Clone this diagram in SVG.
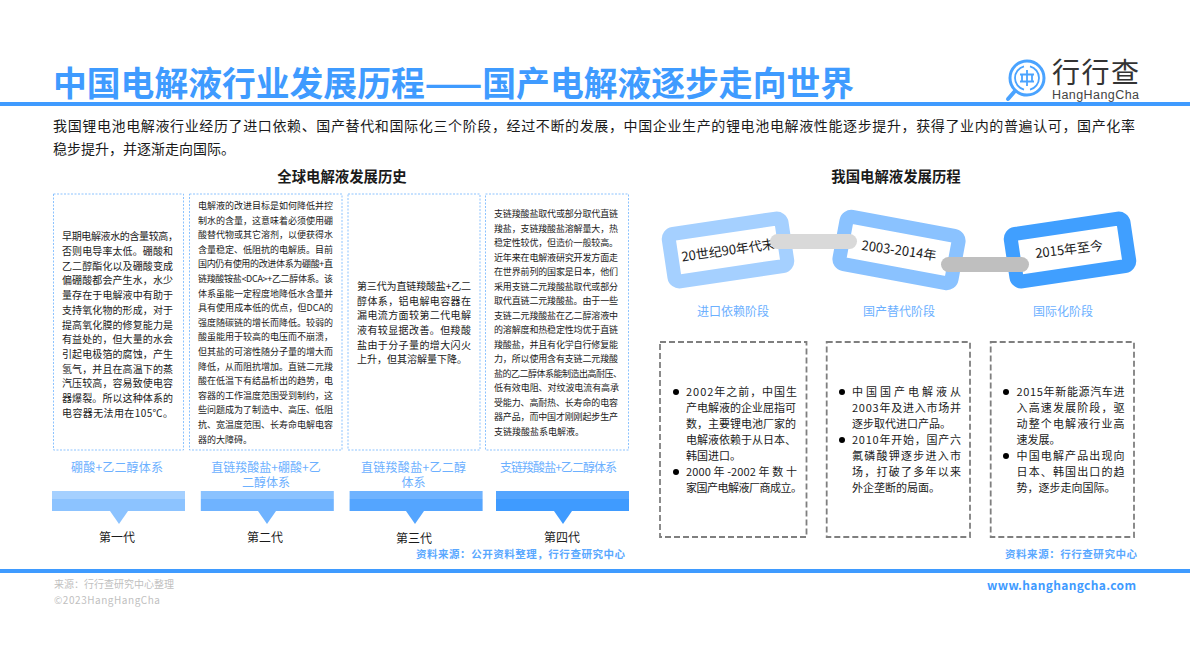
<svg xmlns="http://www.w3.org/2000/svg" width="1190" height="669" viewBox="0 0 1190 669">
<style>
text{font-family:"Noto Sans CJK SC","Noto Sans",sans-serif;fill:#1a1a1a}
.c{text-anchor:middle}
.t10{font-size:10px}
.t9{font-size:9px}
.t11{font-size:11px}
.lab{font-size:12px;fill:#6cb0ff}
.gen{font-size:12px;text-anchor:middle}
.src{font-size:10.5px;font-weight:700;fill:#5aa8ff}
.h{font-size:14.400px;font-weight:700;text-anchor:middle}
.box{fill:#fff;stroke:#8cc3ff;stroke-width:1;stroke-dasharray:2 1.5}
.dbox{fill:#fff;stroke:#7f7f7f;stroke-width:1.8;stroke-dasharray:6 3}
.link{fill:#fff;stroke-width:14}
.foot{font-size:10px;fill:#bfbfbf}
</style>
<g id="header">
<text x="53" y="96" font-size="33.800" font-weight="700" style="fill:#3f9bff">中国电解液行业发展历程——国产电解液逐步走向世界</text>
<rect x="0" y="102" width="1190" height="4" fill="#3f9bff"/>
</g>
<g id="logo">
<circle cx="1027" cy="78" r="17" fill="none" stroke="#4aa3ff" stroke-width="3"/>
<path d="M1015 78a12 12 0 0 1 9-11.600M1039 78a12 12 0 0 1-9 11.600M1030 66.400a12 12 0 0 1 9 11.600M1024 89.600a12 12 0 0 1-9-11.600" fill="none" stroke="#4aa3ff" stroke-width="1.800"/>
<path d="M1020 74.500h14M1020 81.500h14M1027 70v16M1022 74.500v7M1032 74.500v7" fill="none" stroke="#4aa3ff" stroke-width="1.800"/>
<path d="M1015 91l-7 8" stroke="#4aa3ff" stroke-width="4" stroke-linecap="round"/>
<text x="1052" y="83" font-size="28" style="fill:#333" textLength="87" lengthAdjust="spacing">行行查</text>
<text x="1052" y="99" font-size="12.500" style="fill:#444;font-family:'Liberation Sans',sans-serif" textLength="87" lengthAdjust="spacing">HangHangCha</text>
</g>
<g id="intro">
<text x="53" y="131" font-size="14" textLength="1082" lengthAdjust="spacing">我国锂电池电解液行业经历了进口依赖、国产替代和国际化三个阶段，经过不断的发展，中国企业生产的锂电池电解液性能逐步提升，获得了业内的普遍认可，国产化率</text>
<text x="53" y="154" font-size="14">稳步提升，并逐渐走向国际。</text>
</g>
<text class="h" x="342" y="182">全球电解液发展历史</text>
<text class="h" x="896" y="182">我国电解液发展历程</text>

<g id="gen1-text">
<rect class="box" x="53.500" y="194" width="130" height="256"/>
<g class="t10">
<text x="62" y="240" textLength="116">早期电解液水的含量较高，</text>
<text x="62" y="255" textLength="111">否则电导率太低。硼酸和</text>
<text x="62" y="269.700" textLength="111">乙二醇酯化以及硼酸变成</text>
<text x="62" y="284.400" textLength="111">偏硼酸都会产生水，水少</text>
<text x="62" y="299" textLength="111">量存在于电解液中有助于</text>
<text x="62" y="313.800" textLength="111">支持氧化物的形成，对于</text>
<text x="62" y="328.500" textLength="111">提高氧化膜的修复能力是</text>
<text x="62" y="343.200" textLength="111">有益处的，但大量的水会</text>
<text x="62" y="358" textLength="111">引起电极箔的腐蚀，产生</text>
<text x="62" y="372.600" textLength="111">氢气，并且在高温下的蒸</text>
<text x="62" y="387.300" textLength="111">汽压较高，容易致使电容</text>
<text x="62" y="402" textLength="111">器爆裂。所以这种体系的</text>
<text x="62" y="416.800" textLength="111">电容器无法用在105℃。</text>
</g>
</g>
<g id="gen2-text">
<rect class="box" x="189.500" y="194" width="152.500" height="256"/>
<g class="t9">
<text x="198" y="209" textLength="135">电解液的改进目标是如何降低并控</text>
<text x="198" y="223.600" textLength="135">制水的含量，这意味着必须使用硼</text>
<text x="198" y="238.200" textLength="135">酸替代物或其它溶剂，以便获得水</text>
<text x="198" y="252.800" textLength="135">含量稳定、低阻抗的电解质。目前</text>
<text x="198" y="267.400" textLength="135">国内仍有使用的改进体系为硼酸+直</text>
<text x="198" y="282" textLength="135">链羧酸铵盐&lt;DCA&gt;+乙二醇体系。该</text>
<text x="198" y="296.600" textLength="135">体系虽能一定程度地降低水含量并</text>
<text x="198" y="311.200" textLength="135">具有使用成本低的优点，但DCA的</text>
<text x="198" y="325.800" textLength="135">强度随碳链的增长而降低。较弱的</text>
<text x="198" y="340.400" textLength="135">酸虽能用于较高的电压而不崩溃，</text>
<text x="198" y="355" textLength="135">但其盐的可溶性随分子量的增大而</text>
<text x="198" y="369.600" textLength="135">降低，从而阻抗增加。直链二元羧</text>
<text x="198" y="384.200" textLength="135">酸在低温下有结晶析出的趋势，电</text>
<text x="198" y="398.800" textLength="135">容器的工作温度范围受到制约，这</text>
<text x="198" y="413.400" textLength="135">些问题成为了制造中、高压、低阻</text>
<text x="198" y="428" textLength="135">抗、宽温度范围、长寿命电解电容</text>
<text x="198" y="442.600">器的大障碍。</text>
</g>
</g>
<g id="gen3-text">
<rect class="box" x="348" y="194" width="132" height="256"/>
<g class="t10">
<text x="357" y="290" textLength="114">第三代为直链羧酸盐+乙二</text>
<text x="357" y="304.700" textLength="114">醇体系，铝电解电容器在</text>
<text x="357" y="319.400" textLength="114">漏电流方面较第二代电解</text>
<text x="357" y="334" textLength="114">液有较显据改善。但羧酸</text>
<text x="357" y="348.700" textLength="114">盐由于分子量的增大闪火</text>
<text x="357" y="363.400">上升，但其溶解量下降。</text>
</g>
</g>
<g id="gen4-text">
<rect class="box" x="485.500" y="194" width="143" height="256"/>
<g class="t9">
<text x="494" y="217" textLength="124">支链羧酸盐取代或部分取代直链</text>
<text x="494" y="231.500" textLength="124">羧盐，支链羧酸盐溶解量大，热</text>
<text x="494" y="246" textLength="124">稳定性较优，但造价一般较高。</text>
<text x="494" y="260.500" textLength="124">近年来在电解液研究开发方面走</text>
<text x="494" y="275" textLength="124">在世界前列的国家是日本，他们</text>
<text x="494" y="289.500" textLength="124">采用支链二元羧酸盐取代或部分</text>
<text x="494" y="304" textLength="124">取代直链二元羧酸盐。由于一些</text>
<text x="494" y="318.500" textLength="124">支链二元羧酸盐在乙二醇溶液中</text>
<text x="494" y="333" textLength="124">的溶解度和热稳定性均优于直链</text>
<text x="494" y="347.500" textLength="124">羧酸盐，并且有化学自行修复能</text>
<text x="494" y="362" textLength="124">力，所以使用含有支链二元羧酸</text>
<text x="494" y="376.500" textLength="128">盐的乙二醇体系能制造出高耐压、</text>
<text x="494" y="391" textLength="125">低有效电阻、对纹波电流有高承</text>
<text x="494" y="405.500" textLength="124">受能力、高耐热、长寿命的电容</text>
<text x="494" y="420" textLength="124">器产品，而中国才刚刚起步生产</text>
<text x="494" y="434.500">支链羧酸盐系电解液。</text>
</g>
</g>

<g id="gen1">
<text class="lab c" x="117" y="472" textLength="92">硼酸+乙二醇体系</text>
<rect x="52" y="491" width="133" height="8" fill="#a5d0ff"/>
<rect x="52" y="499" width="133" height="12" fill="#8cc3ff"/>
<path d="M110 511h18l-9 13z" fill="#8cc3ff"/>
<text class="gen" x="117" y="542">第一代</text>
</g>
<g id="gen2">
<text class="lab c" x="266" y="472">直链羧酸盐+硼酸+乙</text>
<text class="lab c" x="266" y="487">二醇体系</text>
<rect x="200.800" y="491" width="133" height="8" fill="#8ac2ff"/>
<rect x="200.800" y="499" width="133" height="12" fill="#6fb3ff"/>
<path d="M258 511h18l-9 13z" fill="#6fb3ff"/>
<text class="gen" x="265" y="542">第二代</text>
</g>
<g id="gen3">
<text class="lab c" x="413.500" y="472" textLength="105">直链羧酸盐+乙二醇</text>
<text class="lab c" x="413.500" y="487">体系</text>
<rect x="349.600" y="491" width="133" height="8" fill="#6fb3ff"/>
<rect x="349.600" y="499" width="133" height="12" fill="#54a5ff"/>
<path d="M406 511h18l-9 13z" fill="#54a5ff"/>
<text class="gen" x="414" y="543">第三代</text>
</g>
<g id="gen4">
<text class="lab c" x="558.500" y="472" textLength="117">支链羧酸盐+乙二醇体系</text>
<rect x="496" y="491" width="133" height="8" fill="#54a5ff"/>
<rect x="496" y="499" width="133" height="12" fill="#3f9bff"/>
<path d="M554 511h18l-9 13z" fill="#3f9bff"/>
<text class="gen" x="562" y="542">第四代</text>
</g>
<text class="src" x="416" y="558" textLength="209">资料来源：公开资料整理，行行查研究中心</text>

<g id="stage1">
<rect class="link" x="671" y="226" width="114" height="48" rx="5" stroke="#a5d0ff" transform="rotate(-8.500 728 250)"/>
<text x="728" y="255" font-size="13" class="c" transform="rotate(-8 728 250)">20世纪90年代末</text>
<text class="lab c" x="733" y="316">进口依赖阶段</text>
</g>
<g id="stage2">
<rect class="link" x="842" y="226" width="114" height="48" rx="5" stroke="#8ac2ff" transform="rotate(10.500 899 250)"/>
<text x="899" y="255" font-size="13" class="c" transform="rotate(8 899 250)">2003-2014年</text>
<text class="lab c" x="899" y="316">国产替代阶段</text>
</g>
<g id="stage3">
<rect class="link" x="1013" y="226" width="114" height="48" rx="5" stroke="#409fff" transform="rotate(-8.500 1070 250)"/>
<text x="1069" y="254" font-size="13" class="c" transform="rotate(-7 1069 249)">2015年至今</text>
<text class="lab c" x="1063" y="316">国际化阶段</text>
</g>
<g id="connectors">
<rect x="770" y="234" width="87" height="15" rx="7.500" fill="#d9d9d9"/>
<rect x="941" y="257" width="88" height="15" rx="7.500" fill="#bfbfbf"/>
</g>

<g id="detail1">
<rect class="dbox" x="660" y="342" width="146.500" height="195"/>
<circle cx="676" cy="392" r="3"/><circle cx="676" cy="472" r="3"/>
<g class="t11">
<text x="686" y="396" textLength="111">2002年之前，中国生</text>
<text x="686" y="412" textLength="110">产电解液的企业屈指可</text>
<text x="686" y="428" textLength="110">数，主要锂电池厂家的</text>
<text x="686" y="444" textLength="110">电解液依赖于从日本、</text>
<text x="686" y="460">韩国进口。</text>
<text x="686" y="476" textLength="111">2000 年 -2002 年 数 十</text>
<text x="686" y="492" textLength="116">家国产电解液厂商成立。</text>
</g>
</g>
<g id="detail2">
<rect class="dbox" x="826.700" y="342" width="143.300" height="195"/>
<circle cx="842" cy="392" r="3"/><circle cx="842" cy="440" r="3"/>
<g class="t11">
<text x="852" y="396" textLength="109">中国国产电解液从</text>
<text x="852" y="412" textLength="109">2003年及进入市场并</text>
<text x="852" y="428">逐步取代进口产品。</text>
<text x="852" y="444" textLength="109">2010年开始，国产六</text>
<text x="852" y="460" textLength="109">氟磷酸钾逐步进入市</text>
<text x="852" y="476" textLength="109">场，打破了多年以来</text>
<text x="852" y="492">外企垄断的局面。</text>
</g>
</g>
<g id="detail3">
<rect class="dbox" x="990.700" y="342" width="143.300" height="195"/>
<circle cx="1006" cy="392" r="3"/><circle cx="1006" cy="456" r="3"/>
<g class="t11">
<text x="1016.500" y="396" textLength="108">2015年新能源汽车进</text>
<text x="1016.500" y="412" textLength="108">入高速发展阶段，驱</text>
<text x="1016.500" y="428" textLength="108">动整个电解液行业高</text>
<text x="1016.500" y="444">速发展。</text>
<text x="1016.500" y="460" textLength="108">中国电解产品出现向</text>
<text x="1016.500" y="476" textLength="108">日本、韩国出口的趋</text>
<text x="1016.500" y="492">势，逐步走向国际。</text>
</g>
</g>
<text class="src" x="1005" y="558" textLength="132">资料来源：行行查研究中心</text>

<g id="footer">
<rect x="0" y="569" width="1190" height="4" fill="#3f9bff"/>
<text class="foot" x="54" y="588" textLength="120">来源：行行查研究中心整理</text>
<text class="foot" x="54" y="604" textLength="106">©2023HangHangCha</text>
<text x="987" y="590" font-size="12" font-weight="700" style="fill:#3f9bff" textLength="149">www.hanghangcha.com</text>
</g>
</svg>
